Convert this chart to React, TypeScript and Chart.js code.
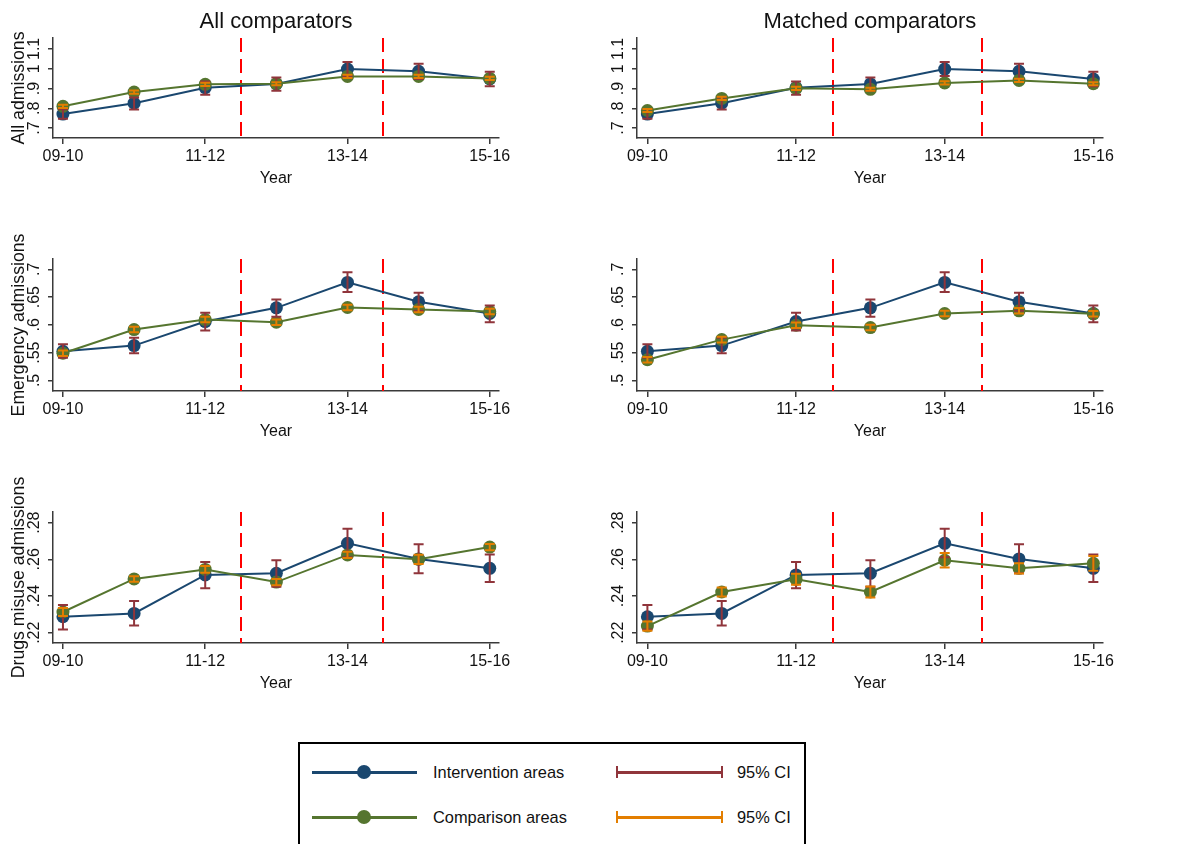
import React, { useEffect, useRef } from 'react';
import { Chart, registerables } from 'chart.js';

Chart.register(...registerables);

// ---------- data ----------
const years = ['09-10', '10-11', '11-12', '12-13', '13-14', '14-15', '15-16'];
const xTickIndexes = [0, 2, 4, 6];
const policyBreaks = [2.5, 4.5];
const columnTitles = ['All comparators', 'Matched comparators'];
const legendLabels = ['Intervention areas', 'Comparison areas', '95% CI'];

// All admissions
const allInterv = [0.771, 0.826, 0.904, 0.923, 0.998, 0.987, 0.948];
const allIntervLo = [0.747, 0.794, 0.869, 0.889, 0.963, 0.948, 0.911];
const allIntervHi = [0.795, 0.855, 0.935, 0.956, 1.034, 1.025, 0.984];
const allCompAll = [0.81, 0.882, 0.921, 0.924, 0.961, 0.961, 0.951];
const allCompAllLo = [0.802, 0.874, 0.913, 0.916, 0.953, 0.953, 0.943];
const allCompAllHi = [0.818, 0.89, 0.929, 0.932, 0.969, 0.969, 0.959];
const allCompMatched = [0.789, 0.85, 0.901, 0.896, 0.928, 0.941, 0.924];
const allCompMatchedLo = [0.781, 0.842, 0.893, 0.888, 0.92, 0.933, 0.916];
const allCompMatchedHi = [0.797, 0.858, 0.909, 0.904, 0.936, 0.949, 0.932];
const allTicks = [0.7, 0.8, 0.9, 1, 1.1];
const allTickLabels = ['.7', '.8', '.9', '1', '1.1'];

// Emergency admissions
const emInterv = [0.5524, 0.5627, 0.606, 0.6307, 0.6765, 0.6416, 0.6205];
const emIntervLo = [0.541, 0.549, 0.59, 0.6145, 0.659, 0.6253, 0.6048];
const emIntervHi = [0.565, 0.577, 0.6217, 0.6458, 0.6946, 0.6578, 0.635];
const emCompAll = [0.549, 0.5916, 0.6096, 0.6048, 0.6313, 0.6277, 0.624];
const emCompAllLo = [0.544, 0.5866, 0.6046, 0.5998, 0.6263, 0.6227, 0.619];
const emCompAllHi = [0.554, 0.5966, 0.6146, 0.6098, 0.6363, 0.6327, 0.629];
const emCompMatched = [0.5373, 0.5735, 0.5994, 0.5952, 0.6205, 0.6253, 0.6199];
const emCompMatchedLo = [0.5323, 0.5685, 0.5944, 0.5902, 0.6155, 0.6203, 0.6149];
const emCompMatchedHi = [0.5423, 0.5785, 0.6044, 0.6002, 0.6255, 0.6303, 0.6249];
const emTicks = [0.5, 0.55, 0.6, 0.65, 0.7];
const emTickLabels = ['.5', '.55', '.6', '.65', '.7'];

// Drugs misuse admissions
const drInterv = [0.2287, 0.2305, 0.2515, 0.2524, 0.2687, 0.2602, 0.2551];
const drIntervLo = [0.2218, 0.224, 0.2442, 0.2451, 0.2611, 0.2524, 0.2476];
const drIntervHi = [0.2351, 0.2373, 0.2585, 0.2595, 0.2767, 0.2682, 0.2627];
const drCompAll = [0.2313, 0.2493, 0.2545, 0.2476, 0.2624, 0.26, 0.2667];
const drCompAllLo = [0.2291, 0.2478, 0.2527, 0.2459, 0.2607, 0.2575, 0.265];
const drCompAllHi = [0.2335, 0.2508, 0.2563, 0.2493, 0.2641, 0.2625, 0.2684];
const drCompMatched = [0.2236, 0.2422, 0.2491, 0.2422, 0.2595, 0.2551, 0.2578];
const drCompMatchedLo = [0.2211, 0.2397, 0.2461, 0.2392, 0.2555, 0.2523, 0.2538];
const drCompMatchedHi = [0.2261, 0.2447, 0.2521, 0.2452, 0.2635, 0.2579, 0.2618];
const drTicks = [0.22, 0.24, 0.26, 0.28];
const drTickLabels = ['.22', '.24', '.26', '.28'];

// ---------- style ----------
const NAVY = '#1a476f';
const GREEN = '#55752f';
const MAROON = '#90353b';
const ORANGE = '#e37e00';
const RED = '#ff0000';
const AXIS = '#3a3a3a';
const FONT = "'Liberation Sans', Arial, sans-serif";

const breakLinesPlugin = {
  id: 'breakLines',
  beforeDatasetsDraw(chart: any) {
    const { ctx, chartArea, scales } = chart;
    ctx.save();
    ctx.strokeStyle = RED;
    ctx.lineWidth = 2;
    ctx.setLineDash([14, 7]);
    policyBreaks.forEach((b) => {
      const px = Math.round(scales.x.getPixelForValue(b));
      ctx.beginPath();
      ctx.moveTo(px, chartArea.top);
      ctx.lineTo(px, chartArea.bottom);
      ctx.stroke();
    });
    ctx.restore();
  },
};

const ciPlugin = {
  id: 'ciBars',
  afterDatasetsDraw(chart: any) {
    const { ctx, scales } = chart;
    chart.data.datasets.forEach((ds: any) => {
      const ci = ds.ci;
      if (!ci) return;
      ctx.save();
      ctx.strokeStyle = ci.color;
      ctx.lineWidth = 2;
      ci.lo.forEach((l: number, i: number) => {
        const px = scales.x.getPixelForValue(i);
        const p1 = scales.y.getPixelForValue(l);
        const p2 = scales.y.getPixelForValue(ci.hi[i]);
        ctx.beginPath();
        ctx.moveTo(px, p1);
        ctx.lineTo(px, p2);
        ctx.moveTo(px - 5, p1);
        ctx.lineTo(px + 5, p1);
        ctx.moveTo(px - 5, p2);
        ctx.lineTo(px + 5, p2);
        ctx.stroke();
      });
      ctx.restore();
    });
  },
};

type PanelProps = {
  left: number;
  chartTop: number;
  width: number;
  plotH: number;
  yMin: number;
  yMax: number;
  yTicks: number[];
  yTickLabels: string[];
  yTitle?: string;
  interv: number[];
  intervLo: number[];
  intervHi: number[];
  comp: number[];
  compLo: number[];
  compHi: number[];
};

const PAD_TOP = 45;
const PAD_RIGHT = 31;
const Y_AXIS_W = 53;
const X_AXIS_H = 52;

function Panel(p: PanelProps) {
  const ref = useRef<HTMLCanvasElement>(null);
  const height = PAD_TOP + p.plotH + X_AXIS_H;
  const top = p.chartTop - PAD_TOP;
  useEffect(() => {
    if (!ref.current) return;
    const chart = new Chart(ref.current, {
      type: 'line',
      data: {
        datasets: [
          {
            label: legendLabels[0],
            data: p.interv.map((y, i) => ({ x: i, y })),
            borderColor: NAVY,
            backgroundColor: NAVY,
            borderWidth: 2,
            pointRadius: 6.5,
            pointBorderWidth: 0,
            pointBackgroundColor: NAVY,
            order: 1,
            ci: { lo: p.intervLo, hi: p.intervHi, color: MAROON },
          } as any,
          {
            label: legendLabels[1],
            data: p.comp.map((y, i) => ({ x: i, y })),
            borderColor: GREEN,
            backgroundColor: GREEN,
            borderWidth: 2,
            pointRadius: 6.5,
            pointBorderWidth: 0,
            pointBackgroundColor: GREEN,
            order: 0,
            ci: { lo: p.compLo, hi: p.compHi, color: ORANGE },
          } as any,
        ],
      },
      options: {
        responsive: false,
        animation: false,
        events: [],
        layout: { padding: { top: PAD_TOP, right: PAD_RIGHT, left: 0, bottom: 0 } },
        plugins: {
          legend: { display: false },
          tooltip: { enabled: false },
          title: { display: false },
        },
        scales: {
          x: {
            type: 'linear',
            bounds: 'data',
            min: -0.14,
            max: 6.13,
            afterBuildTicks: (s: any) => {
              s.ticks = xTickIndexes.map((v) => ({ value: v }));
            },
            afterFit: (s: any) => {
              s.height = X_AXIS_H;
            },
            ticks: {
              autoSkip: false,
              maxRotation: 0,
              minRotation: 0,
              padding: 3,
              color: '#111',
              font: { family: FONT, size: 16 },
              callback: (v: any) => years[Number(v)],
            },
            grid: {
              display: true,
              drawOnChartArea: false,
              drawTicks: true,
              tickLength: 6,
              color: AXIS,
              lineWidth: 1.5,
            },
            border: { display: true, color: AXIS, width: 1.5 },
            title: {
              display: true,
              text: 'Year',
              color: '#111',
              font: { family: FONT, size: 16 },
              padding: { top: 0, bottom: 2 },
            },
          },
          y: {
            type: 'linear',
            bounds: 'data',
            min: p.yMin,
            max: p.yMax,
            afterBuildTicks: (s: any) => {
              s.ticks = p.yTicks.map((v) => ({ value: v }));
            },
            afterFit: (s: any) => {
              s.width = Y_AXIS_W;
            },
            ticks: {
              autoSkip: false,
              minRotation: 90,
              maxRotation: 90,
              crossAlign: 'center',
              padding: 2,
              color: '#111',
              font: { family: FONT, size: 16 },
              callback: (_v: any, i: number) => p.yTickLabels[i],
            },
            grid: {
              display: true,
              drawOnChartArea: false,
              drawTicks: true,
              tickLength: 5,
              color: AXIS,
              lineWidth: 1.5,
            },
            border: { display: true, color: AXIS, width: 1.5 },
            title: {
              display: !!p.yTitle,
              text: p.yTitle || '',
              color: '#111',
              font: { family: FONT, size: 17.7 },
              padding: { top: 8, bottom: 0 },
            },
          },
        },
      } as any,
      plugins: [breakLinesPlugin, ciPlugin],
    });
    return () => chart.destroy();
  }, []);
  return (
    <canvas
      ref={ref}
      width={p.width}
      height={height}
      style={{ position: 'absolute', left: p.left, top, width: p.width, height }}
    />
  );
}

const LEFT_COL = { left: 0, width: 530 };
const RIGHT_COL = { left: 584, width: 550 };
const ROWS = [
  { chartTop: 38, plotH: 100 },
  { chartTop: 259, plotH: 132 },
  { chartTop: 512, plotH: 131 },
];

const legendText: React.CSSProperties = {
  position: 'absolute',
  height: 24,
  lineHeight: '24px',
  fontFamily: FONT,
  fontSize: 16.4,
  color: '#111',
  whiteSpace: 'nowrap',
};

function LegendRow({ y, color, ciColor, label }: { y: number; color: string; ciColor: string; label: string }) {
  return (
    <>
      <div style={{ position: 'absolute', left: 12, top: y - 1.5, width: 105, height: 3, background: color }} />
      <div
        style={{
          position: 'absolute',
          left: 64 - 7,
          top: y - 7,
          width: 14,
          height: 14,
          borderRadius: 7,
          background: color,
        }}
      />
      <div style={{ ...legendText, left: 133, top: y - 12 }}>{label}</div>
      <div style={{ position: 'absolute', left: 316, top: y - 1.5, width: 107, height: 3, background: ciColor }} />
      <div style={{ position: 'absolute', left: 316, top: y - 6, width: 2, height: 12, background: ciColor }} />
      <div style={{ position: 'absolute', left: 421, top: y - 6, width: 2, height: 12, background: ciColor }} />
      <div style={{ ...legendText, left: 437, top: y - 12 }}>{legendLabels[2]}</div>
    </>
  );
}

export default function App() {
  const panels = [
    { row: 0, col: LEFT_COL, yMin: 0.65, yMax: 1.155, yTicks: allTicks, yTickLabels: allTickLabels, yTitle: 'All admissions', interv: allInterv, intervLo: allIntervLo, intervHi: allIntervHi, comp: allCompAll, compLo: allCompAllLo, compHi: allCompAllHi },
    { row: 0, col: RIGHT_COL, yMin: 0.65, yMax: 1.155, yTicks: allTicks, yTickLabels: allTickLabels, interv: allInterv, intervLo: allIntervLo, intervHi: allIntervHi, comp: allCompMatched, compLo: allCompMatchedLo, compHi: allCompMatchedHi },
    { row: 1, col: LEFT_COL, yMin: 0.481, yMax: 0.7186, yTicks: emTicks, yTickLabels: emTickLabels, yTitle: 'Emergency admissions', interv: emInterv, intervLo: emIntervLo, intervHi: emIntervHi, comp: emCompAll, compLo: emCompAllLo, compHi: emCompAllHi },
    { row: 1, col: RIGHT_COL, yMin: 0.481, yMax: 0.7186, yTicks: emTicks, yTickLabels: emTickLabels, interv: emInterv, intervLo: emIntervLo, intervHi: emIntervHi, comp: emCompMatched, compLo: emCompMatchedLo, compHi: emCompMatchedHi },
    { row: 2, col: LEFT_COL, yMin: 0.2144, yMax: 0.2858, yTicks: drTicks, yTickLabels: drTickLabels, yTitle: 'Drugs misuse admissions', interv: drInterv, intervLo: drIntervLo, intervHi: drIntervHi, comp: drCompAll, compLo: drCompAllLo, compHi: drCompAllHi },
    { row: 2, col: RIGHT_COL, yMin: 0.2144, yMax: 0.2858, yTicks: drTicks, yTickLabels: drTickLabels, interv: drInterv, intervLo: drIntervLo, intervHi: drIntervHi, comp: drCompMatched, compLo: drCompMatchedLo, compHi: drCompMatchedHi },
  ];
  return (
    <div
      style={{
        position: 'fixed',
        left: 0,
        top: 0,
        width: 1189,
        height: 844,
        overflow: 'hidden',
        background: '#fff',
      }}
    >
      {panels.map((p, i) => (
        <Panel
          key={i}
          left={p.col.left}
          width={p.col.width}
          chartTop={ROWS[p.row].chartTop}
          plotH={ROWS[p.row].plotH}
          yMin={p.yMin}
          yMax={p.yMax}
          yTicks={p.yTicks}
          yTickLabels={p.yTickLabels}
          yTitle={(p as any).yTitle}
          interv={p.interv}
          intervLo={p.intervLo}
          intervHi={p.intervHi}
          comp={p.comp}
          compLo={p.compLo}
          compHi={p.compHi}
        />
      ))}
      {columnTitles.map((t, i) => {
        const col = i === 0 ? LEFT_COL : RIGHT_COL;
        const l = col.left + Y_AXIS_W;
        const w = col.width - Y_AXIS_W - PAD_RIGHT;
        return (
          <div
            key={t}
            style={{
              position: 'absolute',
              left: l,
              width: w,
              top: 8,
              height: 26,
              lineHeight: '26px',
              textAlign: 'center',
              fontFamily: FONT,
              fontSize: 22,
              color: '#111',
            }}
          >
            {t}
          </div>
        );
      })}
      <div
        style={{
          position: 'absolute',
          left: 298,
          top: 742,
          width: 508,
          height: 140,
          boxSizing: 'border-box',
          border: '2px solid #000',
        }}
      >
        <LegendRow y={772 - 744} color={NAVY} ciColor={MAROON} label={legendLabels[0]} />
        <LegendRow y={817 - 744} color={GREEN} ciColor={ORANGE} label={legendLabels[1]} />
      </div>
    </div>
  );
}
